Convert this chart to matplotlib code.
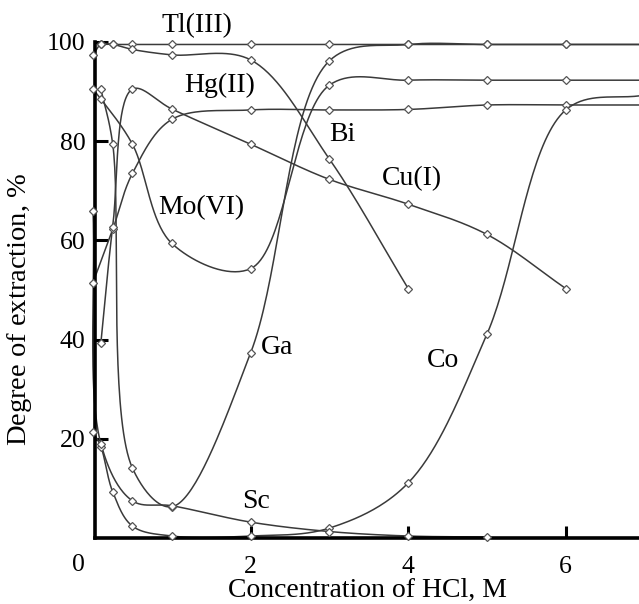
import numpy as np
import matplotlib
matplotlib.use("Agg")
import matplotlib.pyplot as plt

plt.rcParams['font.family'] = 'Liberation Serif'
plt.rcParams['mathtext.fontset'] = 'custom'
plt.rcParams['mathtext.it'] = 'Liberation Serif:italic'
plt.rcParams['mathtext.rm'] = 'Liberation Serif'

# HCl concentration (M) and degree of extraction (%)
x_tl = [0, 0.1, 0.25, 0.5, 1, 2, 3, 4, 5, 6, 7]
y_tl = [97.4, 99.5, 99.5, 99.5, 99.5, 99.5, 99.5, 99.5, 99.5, 99.5, 99.5]

x_bi = [0.1, 0.25, 0.5, 1, 2, 3, 4]
y_bi = [99.5, 99.5, 98.5, 97.4, 96.4, 76.4, 50.3]

x_hg = [0, 0.25, 0.5, 1, 2, 3, 4, 5, 6, 7]
y_hg = [51.5, 62.2, 73.5, 84.4, 86.3, 86.3, 86.4, 87.3, 87.3, 87.3]

x_cu = [0.1, 0.25, 0.5, 1, 2, 3, 4, 5, 6]
y_cu = [39.4, 62.8, 90.5, 86.5, 79.4, 72.3, 67.3, 61.2, 50.3]

x_mo = [0, 0.1, 0.5, 1, 2, 3, 4, 5, 6, 7]
y_mo = [90.5, 88.5, 79.4, 59.4, 54.3, 91.3, 92.3, 92.3, 92.3, 92.3]

x_ga = [0.1, 0.25, 0.5, 1, 2, 3, 4, 5, 6, 7]
y_ga = [90.5, 79.4, 14.1, 6.3, 37.3, 96.2, 99.5, 99.5, 99.5, 99.5]

x_co = [0, 0.1, 0.25, 0.5, 1, 2, 3, 4, 5, 6, 7]
y_co = [21.4, 18.4, 9.3, 2.4, 0.4, 0.4, 2.0, 11.1, 41.1, 86.3, 89.3]

x_sc = [0, 0.1, 0.5, 1, 2, 3, 4, 5]
y_sc = [66.0, 19.0, 7.5, 6.5, 3.2, 1.3, 0.4, 0.2]

labels = ["Tl(III)", "Hg(II)", "Bi", "Cu(I)", "Mo(VI)", "Ga", "Co", "Sc"]
label_x = [1.32, 1.61, 3.16, 4.05, 1.38, 2.33, 4.44, 2.07]
label_y = [103.4, 91.3, 81.3, 72.4, 66.7, 38.5, 35.7, 7.3]


def smooth(xs, ys, n=40, sx=16.0):
    # centripetal Catmull-Rom through the points (x scaled to match the plot aspect)
    P = np.column_stack([np.asarray(xs, float) * sx, np.asarray(ys, float)])
    P = np.vstack([2 * P[0] - P[1], P, 2 * P[-1] - P[-2]])
    out = []
    for i in range(1, len(P) - 2):
        p0, p1, p2, p3 = P[i - 1], P[i], P[i + 1], P[i + 2]
        d = lambda a, b: max(np.linalg.norm(b - a), 1e-6) ** 0.5
        t0 = 0.0
        t1 = t0 + d(p0, p1)
        t2 = t1 + d(p1, p2)
        t3 = t2 + d(p2, p3)
        t = np.linspace(t1, t2, n)[:, None]
        A1 = (t1 - t) / (t1 - t0) * p0 + (t - t0) / (t1 - t0) * p1
        A2 = (t2 - t) / (t2 - t1) * p1 + (t - t1) / (t2 - t1) * p2
        A3 = (t3 - t) / (t3 - t2) * p2 + (t - t2) / (t3 - t2) * p3
        B1 = (t2 - t) / (t2 - t0) * A1 + (t - t0) / (t2 - t0) * A2
        B2 = (t3 - t) / (t3 - t1) * A2 + (t - t1) / (t3 - t1) * A3
        C = (t2 - t) / (t2 - t1) * B1 + (t - t1) / (t2 - t1) * B2
        out.append(C)
    C = np.vstack(out)
    return C[:, 0] / sx, C[:, 1]


fig = plt.figure(figsize=(6.39, 6.04), dpi=100)
ax = fig.add_axes([95 / 639, 66 / 604, 544 / 639, 496 / 604])

series = [(x_tl, y_tl), (x_bi, y_bi), (x_hg, y_hg), (x_cu, y_cu),
          (x_mo, y_mo), (x_ga, y_ga), (x_co, y_co), (x_sc, y_sc)]
for xs, ys in series:
    sx, sy = smooth(xs, ys)
    ax.plot(sx, sy, color='#3a3a3a', lw=1.1, clip_on=False, zorder=2)
    ax.plot(xs, ys, ls='none', marker='D', ms=4.5, mfc='white', mec='#555555',
            mew=0.9, clip_on=False, zorder=3)

for t, lx, ly in zip(labels, label_x, label_y):
    ax.text(lx, ly, t, ha='center', va='center', fontsize=20, clip_on=False)

ax.set_xlim(0.025, 6.93)
ax.set_ylim(0, 100)
ax.set_xticks([2, 4, 6])
ax.set_yticks([20, 40, 60, 80, 100])
ax.tick_params(direction='in', length=9, width=2.2, labelsize=18.5, pad=7)
ax.tick_params(axis='x', pad=13)
ax.text(-0.19, -0.033, "0", transform=ax.get_xaxis_transform(), ha='center',
        va='top', fontsize=18.5)
for s in ['top', 'right']:
    ax.spines[s].set_visible(False)
for s in ['left', 'bottom']:
    ax.spines[s].set_linewidth(2.6)

ax.set_xlabel("Concentration of HCl, M", fontsize=20, labelpad=0)
ax.set_ylabel("Degree of extraction, $\\mathit{\\%}$", fontsize=20.5)
ax.yaxis.set_label_coords(-0.112, 0.46)

fig.savefig("out.png", dpi=100)
